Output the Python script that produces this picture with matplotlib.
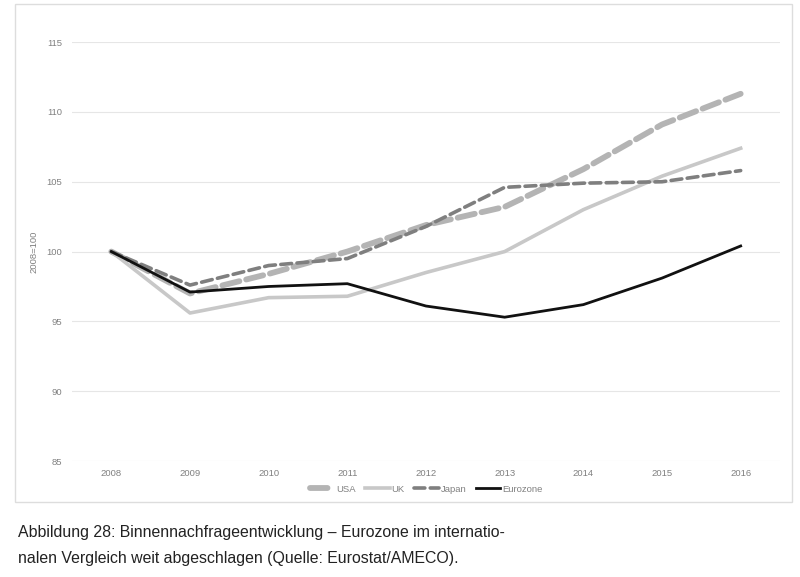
import matplotlib
matplotlib.use('Agg')
import matplotlib.pyplot as plt
from matplotlib.patches import Rectangle

# Daten (2008=100)
years = ['2008', '2009', '2010', '2011', '2012', '2013', '2014', '2015', '2016']
usa = [100, 97.0, 98.4, 100.0, 101.9, 103.2, 105.9, 109.1, 111.3]
uk = [100, 95.6, 96.7, 96.8, 98.5, 100.0, 103.0, 105.4, 107.4]
japan = [100, 97.6, 99.0, 99.5, 101.8, 104.6, 104.9, 105.0, 105.8]
eurozone = [100, 97.1, 97.5, 97.7, 96.1, 95.3, 96.2, 98.1, 100.4]
yticks = [85, 90, 95, 100, 105, 110, 115]

plt.rcParams['font.family'] = ['Liberation Sans', 'DejaVu Sans']

fig = plt.figure(figsize=(8, 5.77), dpi=100)
ax = fig.add_axes([0.09, 0.201, 0.885, 0.726])

x = list(range(len(years)))
ax.plot(x, usa, color='#b4b4b4', lw=4.2, dashes=(3, 1.2), label='USA', dash_capstyle='round')
ax.plot(x, uk, color='#c8c8c8', lw=2.6, label='UK')
ax.plot(x, japan, color='#7f7f7f', lw=2.6, dashes=(3, 1.5), label='Japan', dash_capstyle='round')
ax.plot(x, eurozone, color='#111111', lw=2.0, label='Eurozone')

ax.set_xlim(-0.5, len(years) - 0.5)
ax.set_ylim(85, 115)
ax.set_xticks(x)
ax.set_xticklabels(years)
ax.set_yticks(yticks)
ax.grid(axis='y', color='#e6e6e6', lw=0.8)
ax.set_axisbelow(True)
for s in ax.spines.values():
    s.set_visible(False)
ax.tick_params(length=0, labelsize=6.8, colors='#808080', pad=6)
ax.tick_params(axis='y', pad=7)
ax.set_ylabel('2008=100', fontsize=6.8, color='#808080', labelpad=6)

ax.legend(loc='upper center', bbox_to_anchor=(0.5, -0.036), ncol=4, frameon=False,
          fontsize=6.8, labelcolor='#808080', handlelength=2.6, columnspacing=1.0,
          handletextpad=0.2)

# Rahmen um das Diagramm
fig.patches.append(Rectangle((15 / 800, 1 - 502 / 577), 777 / 800, 498 / 577,
                             transform=fig.transFigure, fill=False,
                             edgecolor='#dddddd', lw=1.0))

fig.text(18 / 800, 1 - 533 / 577,
         'Abbildung 28: Binnennachfrageentwicklung – Eurozone im internatio-',
         fontsize=11.4, color='#222222', va='center')
fig.text(18 / 800, 1 - 558 / 577,
         'nalen Vergleich weit abgeschlagen (Quelle: Eurostat/AMECO).',
         fontsize=11.4, color='#222222', va='center')

fig.savefig('out.png', dpi=100)
